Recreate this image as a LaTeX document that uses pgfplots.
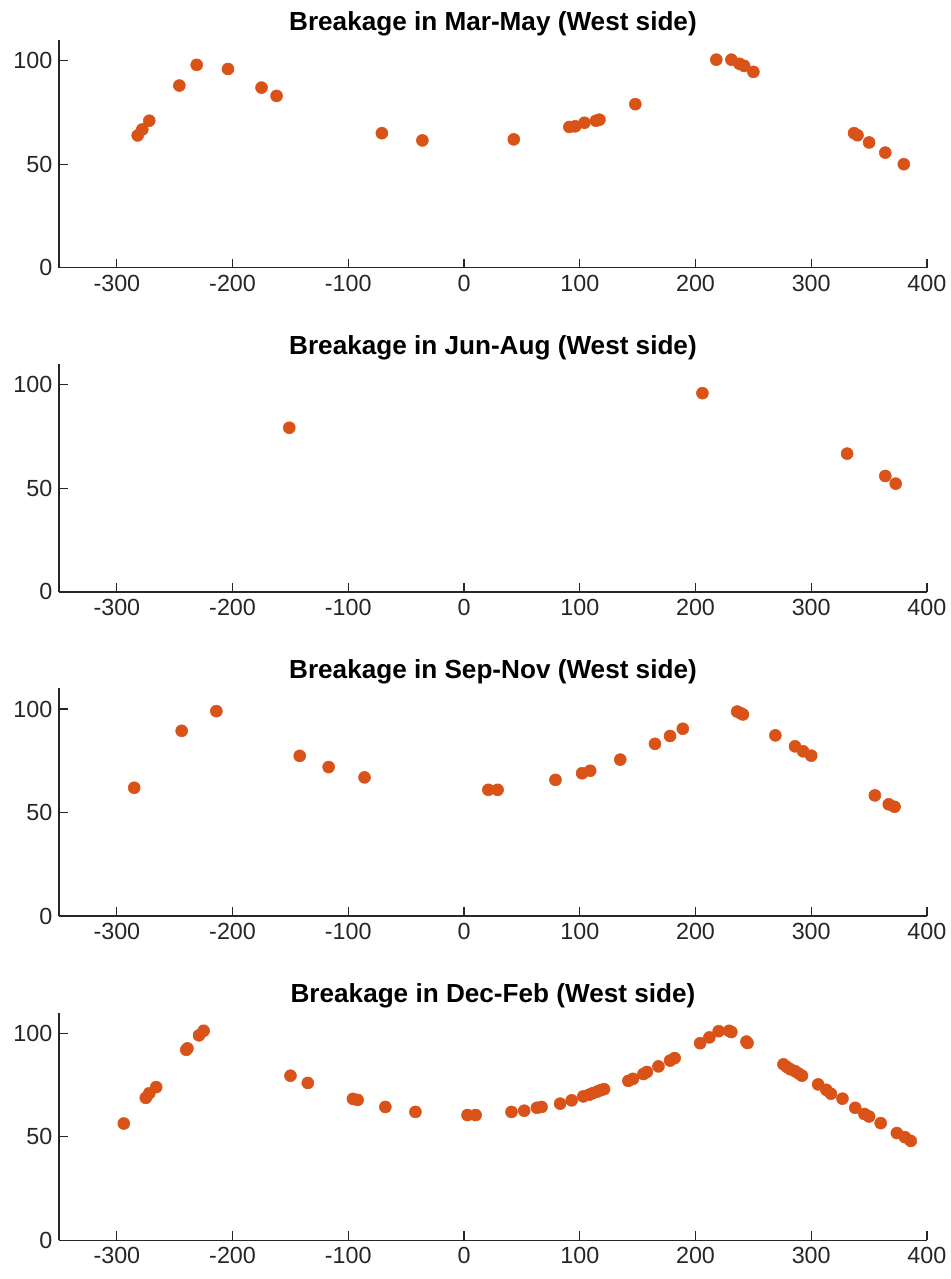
\documentclass[border=0pt]{standalone}
\usepackage{pgfplots}
\pgfplotsset{compat=1.18}
\usepackage{fontspec}
\setmainfont{Liberation Sans}
\definecolor{mOrange}{RGB}{217,83,25}
\definecolor{axgray}{RGB}{38,38,38}
\pgfplotsset{
  panel/.style={
    scale only axis, width=651pt, height=170.8pt,
    xmin=-350, xmax=400, ymin=0, ymax=110,
    xtick={-300,-200,-100,0,100,200,300,400},
    ytick={0,50,100},
    axis x line*=bottom, axis y line*=left,
    axis line style={axgray, line width=0.9pt},
    every tick/.style={axgray, line width=0.9pt},
    major tick length=6.75pt,
    tick align=inside,
    /pgf/number format/assume math mode=true,
    tick label style={font=\fontsize{17.5}{19}\selectfont, text=axgray},
    xticklabel style={yshift=-2pt},
    yticklabel style={xshift=-1.5pt},
    title style={font=\bfseries\fontsize{19.6}{22}\selectfont, yshift=-6.5pt},
    scaled ticks=false,
  },
  dots/.style={only marks, mark=*, mark size=4.5pt, color=mOrange, mark options={draw=mOrange, fill=mOrange}},
}
\begin{document}
\begin{tikzpicture}
\path[use as bounding box] (-44.25pt,200.8pt) rectangle (669pt,-758.5pt);
% Panel 1
\begin{axis}[panel, at={(0pt,0pt)}, title={Breakage in Mar-May (West side)}]
\addplot[dots] coordinates {
(-282,63.9) (-278,66.8) (-272,71) (-246,88) (-231,98) (-204,96) (-175,87) (-162,83)
(-71,65) (-36,61.5) (43,62) (91,68) (96,68.3) (104,70) (114,71) (117,71.5)
(148,79) (218,100.5) (231,100.5) (238,98.5) (242,97.5) (250,94.6)
(337,65) (340,64) (350,60.5) (364,55.6) (380,50)
};
\end{axis}
% Panel 2
\begin{axis}[panel, at={(0pt,-243.15pt)}, title={Breakage in Jun-Aug (West side)}]
\addplot[dots] coordinates {
(-151,79.3) (206,96) (331,66.8) (364,56) (373,52.3)
};
\end{axis}
% Panel 3
\begin{axis}[panel, at={(0pt,-486.3pt)}, title={Breakage in Sep-Nov (West side)}]
\addplot[dots] coordinates {
(-285,62) (-244,89.5) (-214,99) (-142,77.4) (-117,72) (-86,67)
(21,61) (29,61) (79,65.8) (102,69) (109,70.2) (135,75.6) (165,83.2) (178,87) (189,90.5)
(236,98.8) (239,98) (241,97.4) (269,87.3) (286,82) (293,79.6) (300,77.5)
(355,58.3) (367,54) (372,52.8)
};
\end{axis}
% Panel 4
\begin{axis}[panel, at={(0pt,-729.45pt)}, title={Breakage in Dec-Feb (West side)}]
\addplot[dots] coordinates {
(-294,56.4) (-275,68.8) (-272,71) (-266,74) (-240,92) (-239,92.7) (-229,99) (-225,101.2)
(-150,79.5) (-135,76) (-96,68.3) (-92,67.8) (-68,64.4) (-42,62)
(3,60.5) (10,60.5) (41,62) (52,62.6) (63,64) (67,64.4) (83,66) (93,67.6)
(103,69.5) (108,70.3) (111,71) (115,71.8) (118,72.5) (121,73)
(142,77) (146,78) (155,80.3) (158,81.3) (168,84) (178,86.8) (182,88)
(204,95.2) (212,98) (220,101) (229,101.2) (231,100.6) (244,96) (245,95.3)
(276,85) (279,83.7) (282,82.6) (286,81.7) (289,80.6) (292,79.5)
(306,75.3) (313,72.7) (317,70.8) (327,68.4) (338,64) (346,61) (350,59.8)
(360,56.6) (374,51.8) (381,49.8) (386,48)
};
\end{axis}
\end{tikzpicture}
\end{document}
